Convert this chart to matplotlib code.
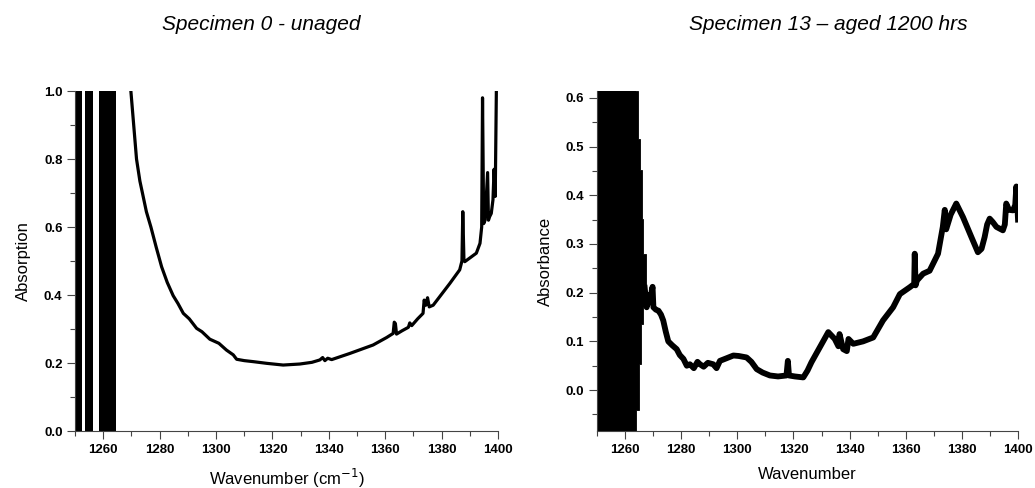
"""Two FTIR spectra side by side: unaged vs aged specimen."""

import matplotlib

matplotlib.use("Agg")
import matplotlib.pyplot as plt  # noqa: E402
from matplotlib.ticker import MultipleLocator  # noqa: E402

# --- left panel: specimen 0 (unaged) ---------------------------------------
unaged_wn = [1269.8, 1271.8, 1273.0, 1273.9, 1275.3, 1276.9, 1278.8, 1280.7,
             1282.7, 1284.8, 1286.5, 1288.4, 1290.5, 1293.1, 1295.0, 1297.8,
             1301.0, 1303.7, 1306.1, 1307.3, 1310.0, 1313.2, 1318.0, 1323.8,
             1329.7, 1334.0, 1336.8, 1337.8, 1338.6, 1339.6, 1341.0, 1347.4,
             1355.7, 1360.5, 1362.8, 1363.2, 1363.6, 1364.0, 1366.0, 1368.2,
             1368.7, 1369.4, 1371.5, 1373.4, 1373.8, 1374.4, 1375.0, 1375.6,
             1377.0, 1382.9, 1386.4, 1387.2, 1387.5, 1387.9, 1388.2, 1392.3,
             1393.6, 1394.2, 1394.5, 1394.9, 1395.4, 1396.3, 1396.6, 1397.0,
             1397.6, 1398.2, 1398.6, 1399.0, 1399.4]
unaged_abs = [1.000, 0.800, 0.735, 0.700, 0.645, 0.600, 0.540, 0.483,
              0.437, 0.398, 0.375, 0.346, 0.330, 0.302, 0.292, 0.270,
              0.258, 0.238, 0.224, 0.211, 0.207, 0.204, 0.199, 0.194,
              0.197, 0.202, 0.209, 0.216, 0.207, 0.214, 0.210, 0.228,
              0.253, 0.275, 0.287, 0.320, 0.316, 0.285, 0.295, 0.305,
              0.318, 0.310, 0.330, 0.346, 0.385, 0.370, 0.392, 0.365,
              0.370, 0.434, 0.474, 0.500, 0.645, 0.505, 0.498, 0.523,
              0.552, 0.600, 0.980, 0.610, 0.620, 0.760, 0.620, 0.630,
              0.640, 0.680, 0.770, 0.690, 1.000]
# saturated (noise-filled) regions below 1265 cm-1
unaged_bands = [(1249.96, 1252.3), (1253.5, 1256.5), (1258.6, 1264.4)]

# --- right panel: specimen 13 (aged 1200 hrs) ------------------------------
aged_wn = [1267.0, 1267.7, 1268.4, 1269.0, 1269.5, 1269.8, 1270.1, 1271.0,
           1271.9, 1272.8, 1273.6, 1274.5, 1275.4, 1276.8, 1278.4, 1279.5,
           1280.8, 1282.0, 1283.1, 1284.5, 1285.8, 1286.7, 1288.0, 1289.5,
           1291.4, 1292.6, 1293.8, 1296.0, 1298.6, 1300.5, 1303.3, 1305.0,
           1306.9, 1309.0, 1311.6, 1314.5, 1317.5, 1318.0, 1318.4, 1320.5,
           1323.5, 1325.0, 1326.4, 1329.4, 1332.4, 1334.7, 1336.0, 1336.4,
           1337.7, 1339.0, 1339.6, 1341.3, 1344.8, 1348.4, 1351.9, 1355.5,
           1357.9, 1361.4, 1363.0, 1363.2, 1363.5, 1364.0, 1366.2, 1368.5,
           1371.5, 1373.2, 1373.9, 1374.4, 1376.0, 1378.0, 1380.4, 1383.4,
           1385.7, 1387.0, 1388.1, 1389.0, 1389.9, 1391.0, 1392.3, 1394.6,
           1395.3, 1395.8, 1396.8, 1398.2, 1399.0, 1399.4, 1400.0]
aged_abs = [0.210, 0.170, 0.195, 0.180, 0.204, 0.212, 0.170, 0.165,
            0.163, 0.155, 0.143, 0.120, 0.100, 0.092, 0.084, 0.072,
            0.064, 0.050, 0.053, 0.045, 0.058, 0.053, 0.048, 0.056,
            0.053, 0.045, 0.060, 0.065, 0.071, 0.070, 0.067, 0.058,
            0.043, 0.036, 0.030, 0.028, 0.030, 0.060, 0.030, 0.028,
            0.026, 0.040, 0.057, 0.088, 0.119, 0.105, 0.090, 0.115,
            0.084, 0.080, 0.105, 0.095, 0.100, 0.108, 0.143, 0.170,
            0.197, 0.211, 0.218, 0.280, 0.215, 0.225, 0.239, 0.245,
            0.280, 0.335, 0.370, 0.330, 0.360, 0.383, 0.355, 0.314,
            0.283, 0.290, 0.314, 0.340, 0.352, 0.345, 0.335, 0.328,
            0.340, 0.383, 0.370, 0.369, 0.380, 0.418, 0.350]
# outline of the saturated block (right edge, bottom to top)
aged_block_abs = [-0.084, -0.041, -0.041, 0.053, 0.053, 0.135, 0.135, 0.170,
                  0.170, 0.184, 0.184, 0.280, 0.280, 0.352, 0.352, 0.451,
                  0.451, 0.516, 0.516, 0.614]
aged_block_edge = [1263.9, 1263.9, 1265.0, 1265.0, 1265.7, 1265.7, 1266.3,
                   1266.3, 1268.3, 1268.3, 1267.5, 1267.5, 1266.5, 1266.5,
                   1265.9, 1265.9, 1265.3, 1265.3, 1264.7, 1264.7]

TICK_FONT = {"family": "Liberation Sans", "weight": "bold", "size": 9.5}
LABEL_FONT = {"family": "Liberation Sans", "size": 12}


def style_axes(ax):
    ax.spines["top"].set_visible(False)
    ax.spines["right"].set_visible(False)
    ax.spines["left"].set_color("#444")
    ax.spines["bottom"].set_color("#444")
    ax.xaxis.set_major_locator(MultipleLocator(20))
    ax.xaxis.set_minor_locator(MultipleLocator(10))
    ax.tick_params(which="major", direction="out", length=6, width=0.8,
                   color="#444", pad=3)
    ax.tick_params(which="minor", direction="out", length=3.5, width=0.8,
                   color="#444")
    for lab in ax.get_xticklabels() + ax.get_yticklabels():
        lab.set_fontfamily(TICK_FONT["family"])
        lab.set_fontweight(TICK_FONT["weight"])
        lab.set_fontsize(TICK_FONT["size"])


fig = plt.figure(figsize=(10.35, 4.88), dpi=100)
ax1 = fig.add_axes([0.0725, 0.1168, 0.4087, 0.6967])
ax2 = fig.add_axes([0.5768, 0.1168, 0.4068, 0.6967])

# left
for lo, hi in unaged_bands:
    ax1.axvspan(lo, hi, color="black", lw=0)
ax1.plot(unaged_wn, unaged_abs, color="black", lw=2.3, solid_joinstyle="round")
ax1.set_xlim(1250, 1400)
ax1.set_ylim(0, 1.0)
ax1.yaxis.set_major_locator(MultipleLocator(0.2))
ax1.yaxis.set_minor_locator(MultipleLocator(0.1))
ax1.yaxis.set_major_formatter(lambda v, _: f"{v:.1f}")
style_axes(ax1)
ax1.set_ylabel("Absorption", fontdict=LABEL_FONT, labelpad=9)
ax1.set_xlabel("Wavenumber (cm$^{-1}$)", fontdict=LABEL_FONT, labelpad=8)
ax1.set_title("Specimen 0 - unaged", fontsize=15, style="italic",
              family="Liberation Sans", pad=44, x=0.44)

# right: solid core of the saturated block, then its ragged right edge
ax2.axvspan(1250, min(aged_block_edge), color="black", lw=0)
block_x = [1250] + aged_block_edge + [1250]
block_y = [aged_block_abs[0]] + aged_block_abs + [aged_block_abs[-1]]
ax2.fill(block_x, block_y, color="black", lw=0.6, edgecolor="black")
ax2.plot(aged_wn, aged_abs, color="black", lw=4.2, solid_joinstyle="round")
ax2.set_xlim(1250, 1400)
ax2.set_ylim(-0.084, 0.614)
ax2.yaxis.set_major_locator(MultipleLocator(0.1))
ax2.yaxis.set_minor_locator(MultipleLocator(0.05))
ax2.yaxis.set_major_formatter(lambda v, _: f"{v:.1f}")
style_axes(ax2)
ax2.set_ylabel("Absorbance", fontdict=LABEL_FONT, labelpad=9)
ax2.set_xlabel("Wavenumber", fontdict=LABEL_FONT, labelpad=8)
ax2.set_title("Specimen 13 \u2013 aged 1200 hrs", fontsize=15, style="italic",
              family="Liberation Sans", pad=44, x=0.55)

fig.savefig("out.png", dpi=100)
